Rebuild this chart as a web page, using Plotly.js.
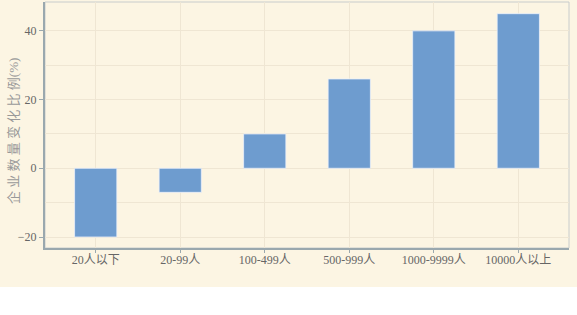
<!DOCTYPE html>
<html><head><meta charset="utf-8">
<script src="https://cdn.plot.ly/plotly-3.0.1.min.js"></script>
<style>html,body{margin:0;padding:0;background:#fff;}</style>
</head><body>
<div id="chart" style="width:577px;height:287px;"></div>
<script>
const categories = ["20人以下", "20-99人", "100-499人", "500-999人", "1000-9999人", "10000人以上"];
const values = [-20, -7, 10, 26, 40, 45];
const yTitle = "企 业 数 量 变 化 比 例(%)";

const font = "'Liberation Serif', 'Noto Sans CJK SC', serif";
const trace = {
  type: "bar",
  x: categories,
  y: values,
  width: 0.5,
  marker: {color: "#6e9ccf", line: {color: "rgba(235,240,250,0.8)", width: 1}},
  hoverinfo: "none"
};
const layout = {
  width: 577, height: 287,
  margin: {l: 45, r: 8, t: 2, b: 39},
  paper_bgcolor: "#fcf5e3",
  plot_bgcolor: "#fcf5e3",
  font: {family: font, size: 12, color: "#666"},
  showlegend: false,
  bargap: 0.5,
  xaxis: {
    type: "category",
    range: [-0.6, 5.6],
    showgrid: true, gridcolor: "#efe6d3", gridwidth: 1,
    showline: true, linecolor: "#9aa8ae", linewidth: 2,
    ticks: "outside", ticklen: 3, tickcolor: "#9aa8ae",
    ticklabelstandoff: -3,
    tickfont: {family: font, size: 12, color: "#666"},
    zeroline: false
  },
  yaxis: {
    range: [-23.2, 48.4],
    dtick: 20, tick0: 0,
    showgrid: true, gridcolor: "#efe6d3", gridwidth: 1,
    minor: {dtick: 10, showgrid: true, gridcolor: "#efe6d3"},
    showline: true, linecolor: "#9aa8ae", linewidth: 2,
    ticks: "outside", ticklen: 4, tickcolor: "#9aa8ae",
    tickfont: {family: font, size: 12, color: "#666"},
    zeroline: false
  },
  annotations: [{
    text: yTitle, textangle: -90,
    xref: "paper", yref: "paper", x: 0, y: 0.476,
    xanchor: "center", yanchor: "middle", xshift: -31,
    showarrow: false,
    font: {family: font, size: 13, color: "#999"}
  }],
  shapes: [{
    type: "rect", xref: "paper", yref: "paper", x0: 0, x1: 1, y0: 0, y1: 1,
    line: {color: "#c8cccc", width: 1}, fillcolor: "rgba(0,0,0,0)", layer: "below"
  }]
};
Plotly.newPlot("chart", [trace], layout, {displayModeBar: false, staticPlot: true});
</script>
</body></html>
